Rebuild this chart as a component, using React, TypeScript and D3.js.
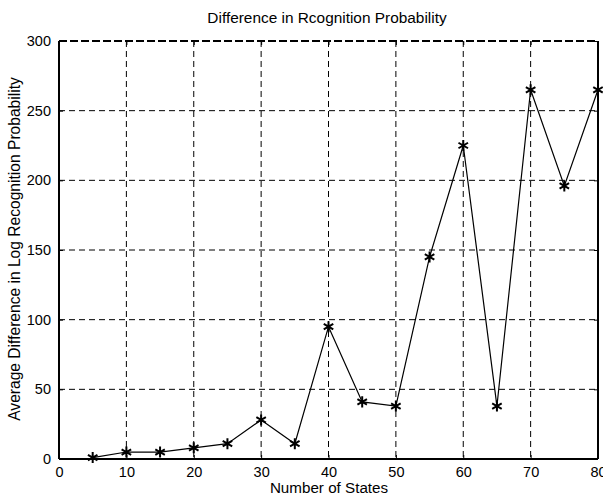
import { useEffect, useRef } from 'react';
import * as d3 from 'd3';

const states = [5, 10, 15, 20, 25, 30, 35, 40, 45, 50, 55, 60, 65, 70, 75, 80];
const avgDiff = [1, 5, 5, 8, 11, 28, 11, 95, 41, 38, 145, 225, 38, 265, 196, 265];
const xTicks = [0, 10, 20, 30, 40, 50, 60, 70, 80];
const yTicks = [0, 50, 100, 150, 200, 250, 300];

const title = 'Difference in Rcognition Probability';
const xLabel = 'Number of States';
const yLabel = 'Average Difference in Log Recognition Probability';

export default function App() {
  const svgRef = useRef<SVGSVGElement>(null);

  useEffect(() => {
    const svg = d3.select(svgRef.current);
    svg.selectAll('*').remove();

    const left = 59, right = 598, top = 41, bottom = 459;
    const x = d3.scaleLinear().domain([0, 80]).range([left, right]);
    const y = d3.scaleLinear().domain([0, 300]).range([bottom, top]);
    const font = 'Arial, "Liberation Sans", sans-serif';

    const g = svg.append('g');

    // grid
    g.selectAll('line.vgrid')
      .data(xTicks.slice(1, -1))
      .enter()
      .append('line')
      .attr('x1', (d) => x(d)).attr('x2', (d) => x(d))
      .attr('y1', top).attr('y2', bottom)
      .attr('stroke', '#000').attr('stroke-width', 1)
      .attr('stroke-dasharray', '6,4');
    g.selectAll('line.hgrid')
      .data(yTicks.slice(1, -1))
      .enter()
      .append('line')
      .attr('y1', (d) => y(d)).attr('y2', (d) => y(d))
      .attr('x1', left).attr('x2', right)
      .attr('stroke', '#000').attr('stroke-width', 1)
      .attr('stroke-dasharray', '6,4');

    // box
    g.append('line')
      .attr('x1', left).attr('x2', left).attr('y1', top).attr('y2', bottom)
      .attr('stroke', '#000').attr('stroke-width', 2);
    g.append('line')
      .attr('x1', left).attr('x2', right).attr('y1', bottom).attr('y2', bottom)
      .attr('stroke', '#000').attr('stroke-width', 2);
    g.append('line')
      .attr('x1', right).attr('x2', right).attr('y1', top).attr('y2', bottom)
      .attr('stroke', '#000').attr('stroke-width', 2);
    g.append('line')
      .attr('x1', left).attr('x2', right).attr('y1', top).attr('y2', top)
      .attr('stroke', '#000').attr('stroke-width', 2)
      .attr('stroke-dasharray', '8,3');

    // bottom axis
    const xAxis = g.append('g')
      .attr('transform', `translate(0,${bottom})`)
      .call(d3.axisBottom(x).tickValues(xTicks).tickSize(-4).tickPadding(8));
    xAxis.select('.domain').remove();
    xAxis.selectAll('text').attr('font-size', 14.5).attr('font-family', font).attr('fill', '#000');

    const xAxisTop = g.append('g')
      .attr('transform', `translate(0,${top})`)
      .call(d3.axisTop(x).tickValues(xTicks).tickSize(-4).tickFormat(() => ''));
    xAxisTop.select('.domain').remove();

    const yAxis = g.append('g')
      .attr('transform', `translate(${left},0)`)
      .call(d3.axisLeft(y).tickValues(yTicks).tickSize(-4).tickPadding(8));
    yAxis.select('.domain').remove();
    yAxis.selectAll('text').attr('font-size', 14.5).attr('font-family', font).attr('fill', '#000');

    const yAxisRight = g.append('g')
      .attr('transform', `translate(${right},0)`)
      .call(d3.axisRight(y).tickValues(yTicks).tickSize(-4).tickFormat(() => ''));
    yAxisRight.select('.domain').remove();

    // line
    const line = d3.line<number>()
      .x((_, i) => x(states[i]))
      .y((d) => y(d));
    g.append('path')
      .datum(avgDiff)
      .attr('d', line)
      .attr('fill', 'none')
      .attr('stroke', '#000')
      .attr('stroke-width', 1.2);

    // markers
    const sym = d3.symbol().type(d3.symbolAsterisk).size(85);
    g.selectAll('path.mark')
      .data(avgDiff)
      .enter()
      .append('path')
      .attr('transform', (d, i) => `translate(${x(states[i])},${y(d)})`)
      .attr('d', sym)
      .attr('fill', 'none')
      .attr('stroke', '#000')
      .attr('stroke-width', 2);

    // labels
    svg.append('text')
      .attr('x', 327).attr('y', 23)
      .attr('text-anchor', 'middle')
      .attr('font-family', font).attr('font-size', 15.4)
      .text(title);
    svg.append('text')
      .attr('x', 329).attr('y', 493)
      .attr('text-anchor', 'middle')
      .attr('font-family', font).attr('font-size', 15.2)
      .text(xLabel);
    svg.append('text')
      .attr('transform', `translate(20,${(top + bottom) / 2 - 1}) rotate(-90)`)
      .attr('text-anchor', 'middle')
      .attr('font-family', font).attr('font-size', 15.6)
      .text(yLabel);
  }, []);

  return (
    <svg
      ref={svgRef}
      width={603}
      height={496}
      style={{ position: 'absolute', left: 0, top: 0, background: '#fff' }}
    />
  );
}
